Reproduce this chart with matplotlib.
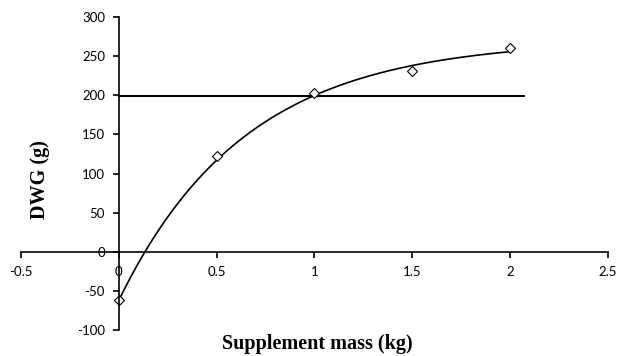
import matplotlib
matplotlib.use('Agg')
import matplotlib.pyplot as plt
import numpy as np

plt.rcParams['axes.unicode_minus'] = False

# observed points
supplement = [0, 0.5, 1.0, 1.5, 2.0]
dwg = [-61, 122, 203, 231, 261]

# fitted curve y = a - b * exp(-c * x), parameters
fit_a, fit_b, fit_c = 271.0, 333.0, 1.543
target_x = [0, 2.07]
target_y = [199, 199]

xticks = [-0.5, 0, 0.5, 1, 1.5, 2, 2.5]
yticks = [-100, -50, 0, 50, 100, 150, 200, 250, 300]

fig = plt.figure(figsize=(6.19, 3.56), dpi=100)
ax = fig.add_axes([0.034, 0.073, 0.948, 0.879])

xs = np.linspace(0, 2, 200)
ax.plot(xs, fit_a - fit_b * np.exp(-fit_c * xs), color='black', lw=1.2)
ax.plot(target_x, target_y, color='black', lw=1.5)
ax.plot(supplement, dwg, linestyle='none', marker='D', markersize=5,
        markerfacecolor='white', markeredgecolor='black', markeredgewidth=0.8)

ax.set_xlim(-0.5, 2.5)
ax.set_ylim(-100, 300)
ax.set_xticks(xticks)
ax.set_xticklabels(['-0.5', '0', '0.5', '1', '1.5', '2', '2.5'])
ax.set_yticks(yticks)

ax.spines['left'].set_position(('data', 0))
ax.spines['bottom'].set_position(('data', 0))
ax.spines['right'].set_visible(False)
ax.spines['top'].set_visible(False)
for s in ['left', 'bottom']:
    ax.spines[s].set_linewidth(1.2)
ax.tick_params(direction='out', length=4, width=1.2, labelsize=9.5, pad=6)
for lbl in ax.get_xticklabels() + ax.get_yticklabels():
    lbl.set_family('Lato')

fig.text(0.513, 0.033, 'Supplement mass (kg)', ha='center', va='center',
         family='Liberation Serif', fontweight='bold', fontsize=14.5)
fig.text(0.065, 0.497, 'DWG (g)', ha='center', va='center', rotation=90,
         family='Liberation Serif', fontweight='bold', fontsize=14.5)

fig.savefig('out.png', dpi=100)
